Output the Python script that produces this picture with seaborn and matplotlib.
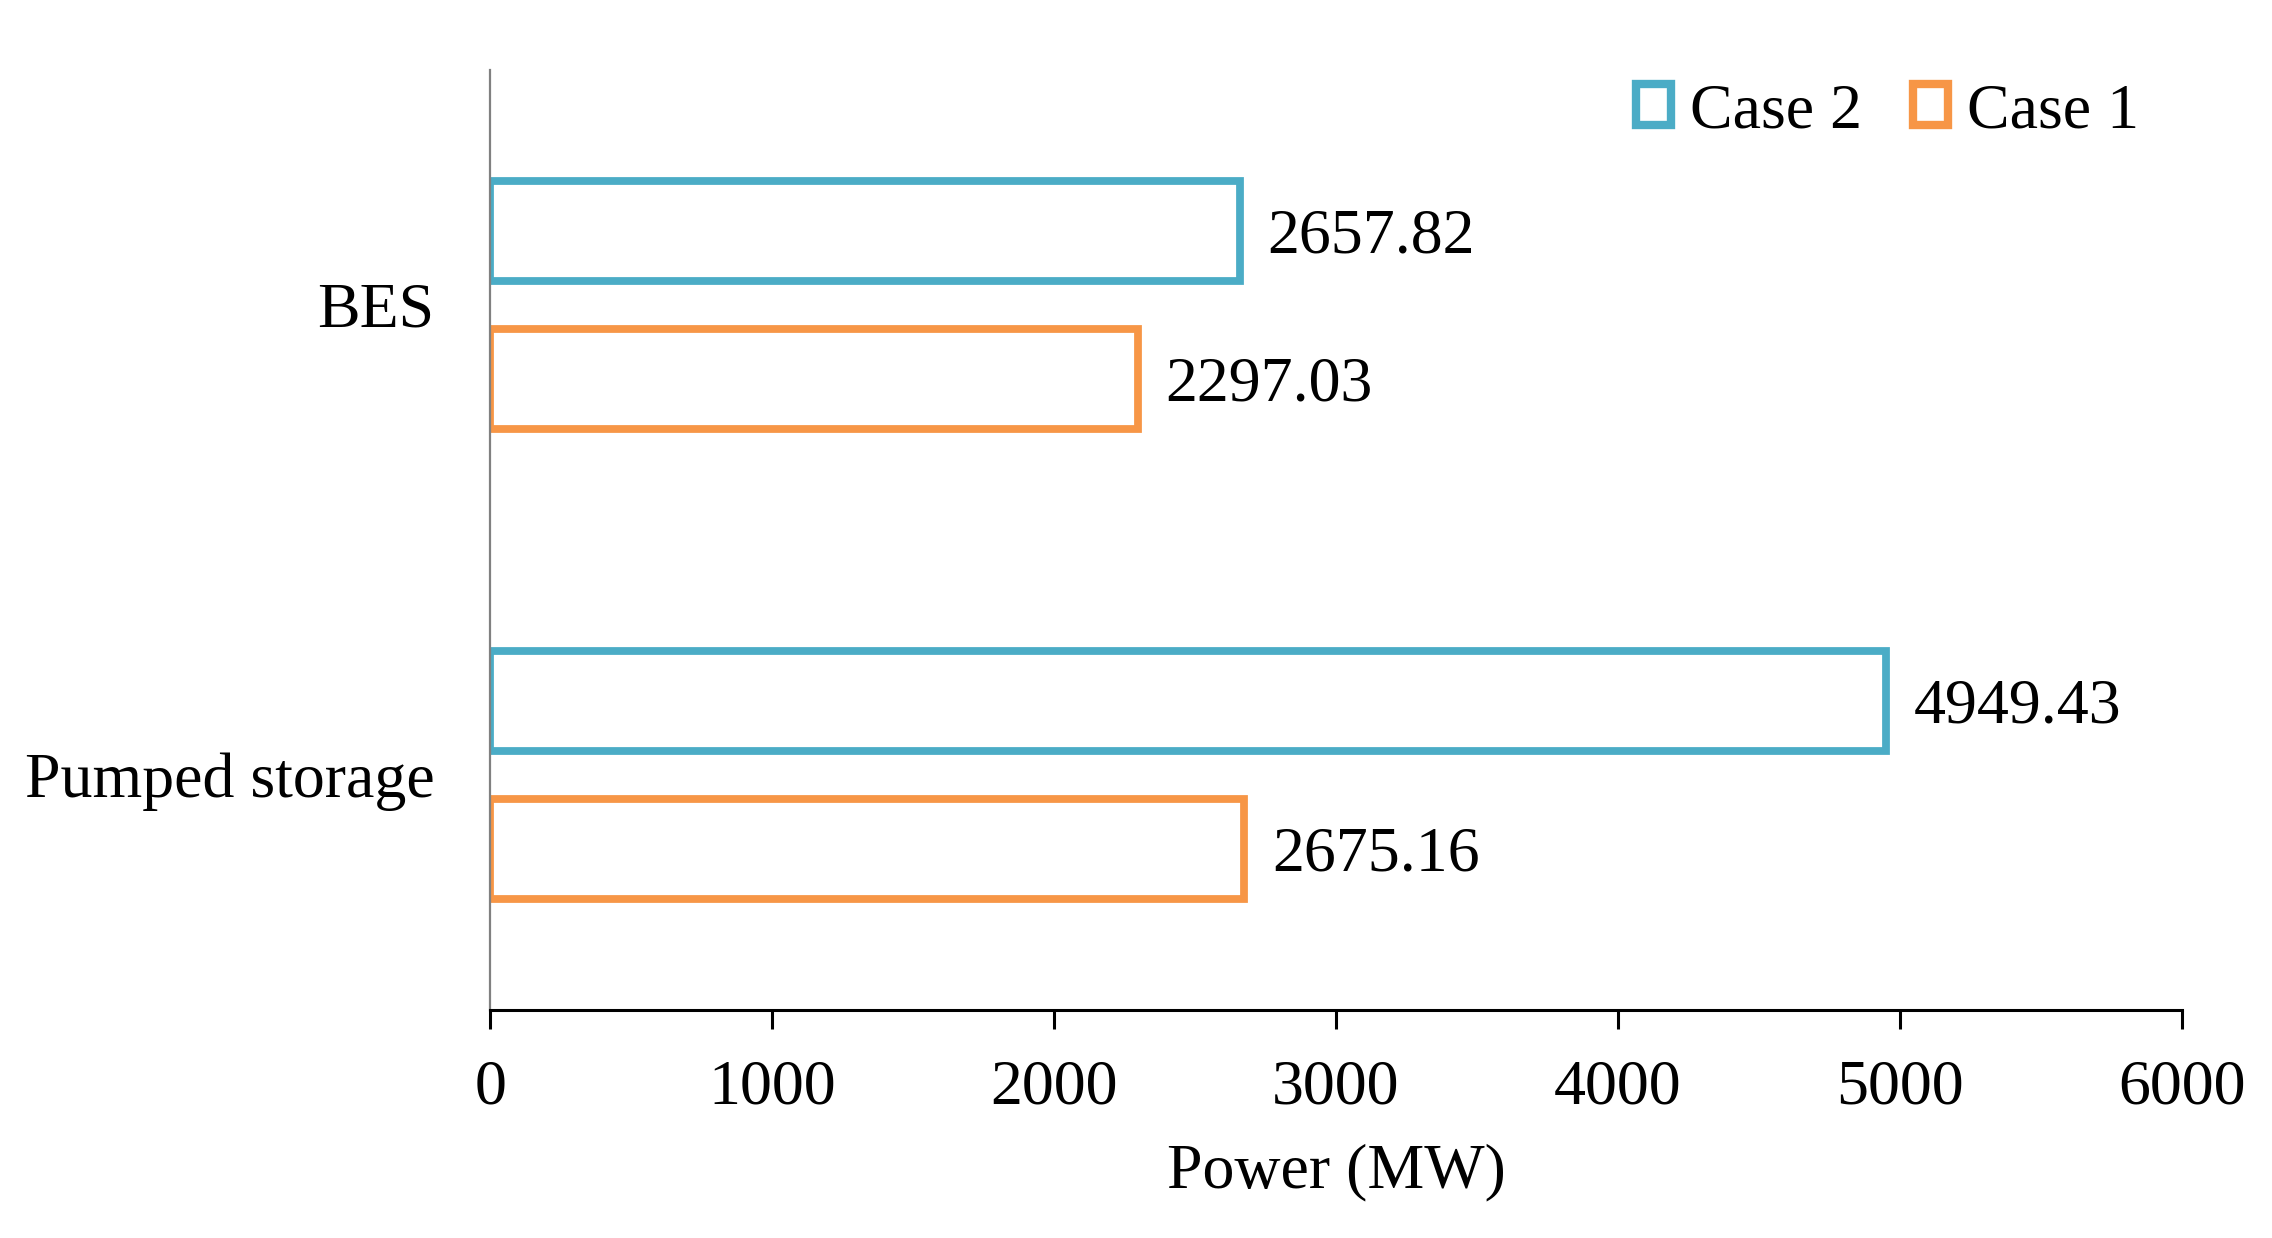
import matplotlib
matplotlib.use("Agg")
import matplotlib.pyplot as plt
import seaborn as sns
import pandas as pd

categories = ["BES", "Pumped storage"]
case2_values = [2657.82, 4949.43]
case1_values = [2297.03, 2675.16]
series_names = ["Case 2", "Case 1"]
xticks = [0, 1000, 2000, 3000, 4000, 5000, 6000]

df = pd.DataFrame({
    "Storage": categories * 2,
    "Power": case2_values + case1_values,
    "Case": [series_names[0]] * len(categories) + [series_names[1]] * len(categories),
})

sns.set_theme(style="white")
plt.rcParams["font.family"] = ["Liberation Serif", "DejaVu Serif"]
plt.rcParams["font.size"] = 23
plt.rcParams["text.color"] = "black"
plt.rcParams["axes.labelcolor"] = "black"
plt.rcParams["xtick.color"] = "black"
plt.rcParams["ytick.color"] = "black"

fig = plt.figure(figsize=(11.36, 6.19), dpi=200)
ax = fig.add_axes([0.2157, 0.1842, 0.9604 - 0.2157, 0.9435 - 0.1842])

palette = {"Case 2": "#4BACC6", "Case 1": "#F79646"}
sns.barplot(data=df, y="Storage", x="Power", hue="Case", order=categories,
            hue_order=series_names, palette=palette, orient="h",
            fill=False, linewidth=2.8, width=0.63, gap=0.33, ax=ax, legend=True)

for cont in ax.containers:
    labels = ax.bar_label(cont, fmt="%.2f", padding=10, fontsize=23, color="black")
    for lab in labels:
        lab.set_va("center_baseline")

ax.set_xlim(0, 6000)
ax.set_ylim(1.5, -0.5)
ax.set_xticks(xticks)
ax.set_xticklabels([str(t) for t in xticks], fontsize=23)
ax.set_xlabel("Power (MW)", fontsize=23, labelpad=9, color="black")
ax.set_ylabel("")
ax.tick_params(axis="x", direction="out", length=7, width=1.1, color="black",
               labelcolor="black", pad=11, bottom=True)
ax.tick_params(axis="y", length=0, pad=20, labelsize=23, labelcolor="black")

for s in ["top", "right"]:
    ax.spines[s].set_visible(False)
ax.spines["left"].set_color("#808080")
ax.spines["left"].set_linewidth(0.8)
ax.spines["bottom"].set_color("black")
ax.spines["bottom"].set_linewidth(1.1)

handles, labels = ax.get_legend_handles_labels()
leg = ax.legend(handles, labels, ncol=2, frameon=False, loc="center right",
                bbox_to_anchor=(0.99, 0.955), fontsize=23, handlelength=0.55,
                handleheight=0.6, handletextpad=0.3, columnspacing=0.8,
                borderaxespad=0)
for h in leg.legend_handles:
    h.set_linewidth(3.0)
for t in leg.get_texts():
    t.set_color("black")

fig.savefig("out.png", dpi=200, facecolor="white")
